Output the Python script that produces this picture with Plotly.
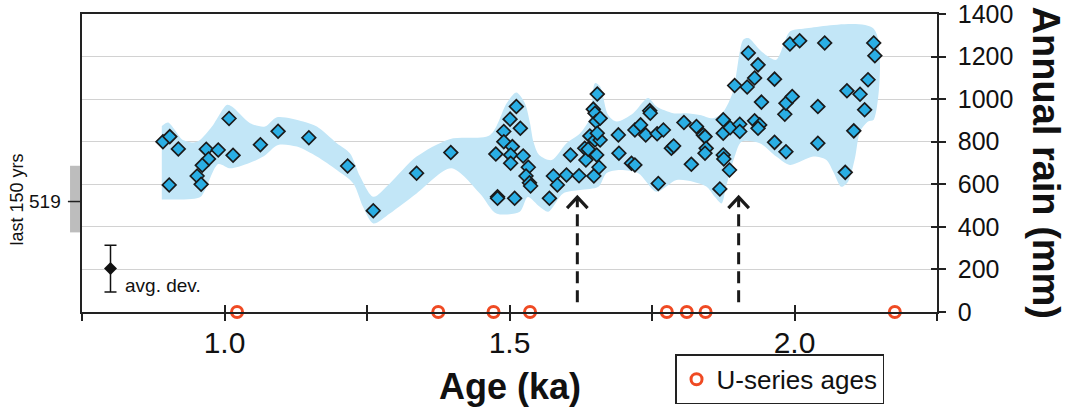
import plotly.graph_objects as go

# ---------------- data ----------------
age = [0.892, 0.904, 0.919, 0.903, 0.968, 0.989, 0.972, 0.961, 0.952, 0.959,
       1.008, 1.015, 1.063, 1.094, 1.148, 1.216, 1.261, 1.337, 1.397, 1.476,
       1.512, 1.501, 1.519, 1.490, 1.490, 1.505, 1.502, 1.502, 1.524, 1.533,
       1.529, 1.535, 1.537, 1.479, 1.479, 1.509, 1.570, 1.577, 1.584, 1.600,
       1.607, 1.622, 1.632, 1.634, 1.641, 1.638, 1.650, 1.653, 1.659, 1.648,
       1.657, 1.647, 1.650, 1.654, 1.652, 1.659, 1.654, 1.691, 1.692, 1.714,
       1.720, 1.720, 1.730, 1.739, 1.746, 1.747, 1.759, 1.770, 1.784, 1.788,
       1.761, 1.806, 1.819, 1.828, 1.840, 1.843, 1.845, 1.843, 1.875, 1.875,
       1.887, 1.904, 1.904, 1.875, 1.876, 1.886, 1.869, 1.919, 1.936, 1.930,
       1.895, 1.917, 1.965, 1.942, 1.930, 1.939, 1.936, 1.965, 1.985, 1.983,
       1.985, 1.996, 1.992, 2.009, 2.041, 2.041, 2.053, 2.089, 2.092, 2.115,
       2.129, 2.123, 2.104, 2.139, 2.141]
rain = [800, 824, 766, 597, 765, 761, 719, 689, 639, 600,
        909, 736, 786, 849, 819, 686, 476, 652, 749, 742,
        965, 906, 863, 848, 800, 777, 738, 699, 733, 680,
        639, 607, 592, 541, 534, 534, 534, 639, 597, 644,
        738, 640, 769, 714, 827, 765, 808, 738, 808, 639,
        680, 953, 934, 1024, 895, 910, 840, 832, 746, 699,
        691, 855, 879, 832, 946, 934, 837, 855, 769, 780,
        604, 890, 694, 871, 832, 824, 769, 746, 903, 840,
        866, 882, 848, 738, 719, 667, 578, 1217, 1161, 1099,
        1064, 1057, 1094, 986, 898, 879, 863, 797, 753, 929,
        981, 1012, 1259, 1274, 965, 793, 1264, 656, 1039, 1023,
        1091, 950, 851, 1264, 1204]

band_up_age = [0.890, 0.901, 0.913, 0.925, 0.945, 0.957, 0.978, 1.004, 1.013, 1.045,
               1.071, 1.092, 1.138, 1.162, 1.197, 1.220, 1.238, 1.261, 1.290, 1.337,
               1.395, 1.466, 1.495, 1.512, 1.527, 1.536, 1.542, 1.552, 1.574, 1.600,
               1.624, 1.641, 1.650, 1.659, 1.673, 1.688, 1.717, 1.743, 1.758, 1.787,
               1.810, 1.834, 1.857, 1.875, 1.892, 1.910, 1.919, 1.939, 1.951, 1.968,
               1.992, 2.015, 2.139]
band_up = [874, 890, 855, 812, 796, 808, 871, 973, 965, 887,
           871, 915, 895, 871, 793, 746, 636, 541, 604, 730,
           812, 832, 981, 1031, 981, 887, 800, 738, 714, 793,
           840, 910, 1075, 1059, 926, 895, 934, 1005, 965, 934,
           934, 926, 910, 941, 1035, 1279, 1287, 1232, 1205, 1185,
           1318, 1331, 1331]
band_lo_age = [0.890, 0.957, 0.966, 0.989, 1.010, 1.039, 1.068, 1.094, 1.127, 1.162,
               1.197, 1.226, 1.243, 1.261, 1.290, 1.337, 1.398, 1.448, 1.477, 1.518,
               1.532, 1.553, 1.568, 1.594, 1.624, 1.656, 1.670, 1.694, 1.726, 1.758,
               1.793, 1.822, 1.846, 1.860, 1.872, 1.880, 1.895, 1.907, 1.939, 1.968,
               1.992, 2.033, 2.056, 2.068, 2.082, 2.094, 2.106, 2.115, 2.129, 2.139]
band_lo = [529, 539, 573, 695, 675, 695, 730, 785, 777, 730,
           667, 604, 494, 416, 463, 557, 675, 557, 463, 471,
           540, 494, 471, 557, 573, 588, 652, 667, 652, 565,
           620, 612, 588, 541, 510, 588, 730, 800, 793, 730,
           691, 730, 714, 659, 588, 612, 722, 848, 895, 903]

useries_age = [1.022, 1.375, 1.472, 1.536, 1.776, 1.811, 1.844, 2.176]
useries_val = [0, 0, 0, 0, 0, 0, 0, 0]

arrow_age = [1.619, 1.902]
arrow_top = 540
arrow_bottom = 46

avgdev_age = [0.800]
avgdev_val = [204]
avgdev_err = [110]

modern_val = 519
modern_lo = 374
modern_hi = 687

xtick_vals = [0.75, 1.0, 1.25, 1.5, 1.75, 2.0, 2.25]
xtick_text = ["", "1.0", "", "1.5", "", "2.0", ""]
ytick_vals = [0, 200, 400, 600, 800, 1000, 1200, 1400]

# ---------------- style ----------------
FONT = "Liberation Sans, Arial, Helvetica, sans-serif"
AX = "#222222"
BAND = "#c2e6f7"
DIAMOND = "#2aaee4"
ORANGE = "#ef4a23"

fig = go.Figure()

# uncertainty band
fig.add_trace(go.Scatter(
    x=band_up_age + band_lo_age[::-1],
    y=band_up + band_lo[::-1],
    mode="lines", fill="toself", fillcolor=BAND,
    line=dict(width=0, color=BAND, shape="spline", smoothing=0.8),
    hoverinfo="skip", showlegend=False))

# data diamonds
fig.add_trace(go.Scatter(
    x=age, y=rain, mode="markers",
    marker=dict(symbol="diamond", size=10.5, color=DIAMOND,
                line=dict(color="#1a1a1a", width=1.7)),
    showlegend=False))

# average deviation
fig.add_trace(go.Scatter(
    x=avgdev_age, y=avgdev_val, mode="markers",
    marker=dict(symbol="diamond", size=10, color="#111111"),
    error_y=dict(type="data", array=avgdev_err, color="#111111",
                 thickness=1.5, width=6),
    showlegend=False))

# arrows
for a in arrow_age:
    fig.add_trace(go.Scatter(
        x=[a, a], y=[arrow_bottom, arrow_top - 8], mode="lines",
        line=dict(color="#1a1a1a", width=3, dash="12px,7px"),
        showlegend=False, hoverinfo="skip"))
    fig.add_trace(go.Scatter(
        x=[a - 0.018, a, a + 0.018], y=[arrow_top - 52, arrow_top, arrow_top - 52],
        mode="lines", line=dict(color="#1a1a1a", width=3.2),
        showlegend=False, hoverinfo="skip"))

# U-series ages
fig.add_trace(go.Scatter(
    x=useries_age, y=useries_val, mode="markers", name="U-series ages",
    marker=dict(symbol="circle", size=11, color="white",
                line=dict(color=ORANGE, width=3)),
    cliponaxis=False, showlegend=True))

# helper trace for overlay axes (crossing ticks)
fig.add_trace(go.Scatter(x=[None], y=[None], xaxis="x2", yaxis="y2",
                         showlegend=False, hoverinfo="skip"))

fig.update_layout(
    template="none",
    width=1066, height=407,
    margin=dict(l=82, r=129, t=14, b=95, autoexpand=False),
    paper_bgcolor="white", plot_bgcolor="white",
    font=dict(family=FONT, color="#111111"),
    xaxis=dict(range=[0.75, 2.25], tickvals=xtick_vals, ticktext=xtick_text,
               ticks="outside", ticklen=7, tickwidth=1.5, tickcolor=AX,
               showline=True, linecolor=AX, linewidth=1.5, mirror=True,
               showgrid=False, zeroline=False, tickfont=dict(size=30),
               ticklabelstandoff=-4, automargin=False),
    xaxis2=dict(range=[0.75, 2.25], overlaying="x", anchor="y", side="bottom",
                tickvals=xtick_vals, ticks="inside", ticklen=7, tickwidth=1.5,
                tickcolor=AX, showticklabels=False, showline=False,
                showgrid=False, zeroline=False, automargin=False),
    yaxis=dict(range=[0, 1400], side="right", tickvals=ytick_vals,
               ticks="outside", ticklen=7, tickwidth=1.5, tickcolor=AX,
               showline=True, linecolor=AX, linewidth=1.5, mirror=True,
               showgrid=True, gridcolor="#d2d2d2", gridwidth=1.3,
               zeroline=False, tickfont=dict(size=25), ticklabelstandoff=7,
               ticklabeloverflow="allow", automargin=False),
    yaxis2=dict(range=[0, 1400], overlaying="y", anchor="x", side="right",
                tickvals=ytick_vals, ticks="inside", ticklen=6, tickwidth=1.5,
                tickcolor=AX, showticklabels=False, showline=False,
                showgrid=False, zeroline=False, automargin=False),
    legend=dict(x=0.6936, y=-0.31, xanchor="left", yanchor="bottom",
                bordercolor=AX, borderwidth=1.5, bgcolor="white",
                font=dict(size=26), itemwidth=30),
    showlegend=True,
)

# modern (last 150 yrs) bar and tick
fig.add_shape(type="rect", xref="paper", yref="y",
              x0=-0.014, x1=-0.0015, y0=modern_lo, y1=modern_hi,
              fillcolor="#bdbdbd", line=dict(width=0), layer="below")
fig.add_shape(type="line", xref="paper", yref="y",
              x0=-0.0165, x1=0, y0=modern_val, y1=modern_val,
              line=dict(color=AX, width=1.5))
fig.add_annotation(xref="paper", yref="y", x=-0.022, y=modern_val,
                   text=str(modern_val), showarrow=False, xanchor="right",
                   yanchor="middle", font=dict(size=19))
fig.add_annotation(xref="paper", yref="y", x=-0.076, y=modern_val + 10,
                   text="last 150 yrs", showarrow=False, textangle=-90,
                   xanchor="center", yanchor="middle", font=dict(size=18))

# avg. dev. label
fig.add_annotation(xref="x", yref="y", x=0.822, y=126, text="avg. dev.",
                   showarrow=False, xanchor="left", yanchor="middle",
                   font=dict(size=19))

# axis titles
fig.add_annotation(xref="paper", yref="paper", x=0.5, y=-0.25,
                   text="<b>Age (ka)</b>", showarrow=False,
                   xanchor="center", yanchor="middle", font=dict(size=36))
fig.add_annotation(xref="paper", yref="paper", x=1.128, y=0.5,
                   text="<b>Annual rain (mm)</b>", showarrow=False,
                   textangle=90, xanchor="center", yanchor="middle",
                   font=dict(size=38))

fig.write_html("out.html",
               config={"displayModeBar": False},
               post_script="document.body.style.margin='0px';"
                           "document.body.style.padding='0px';")
